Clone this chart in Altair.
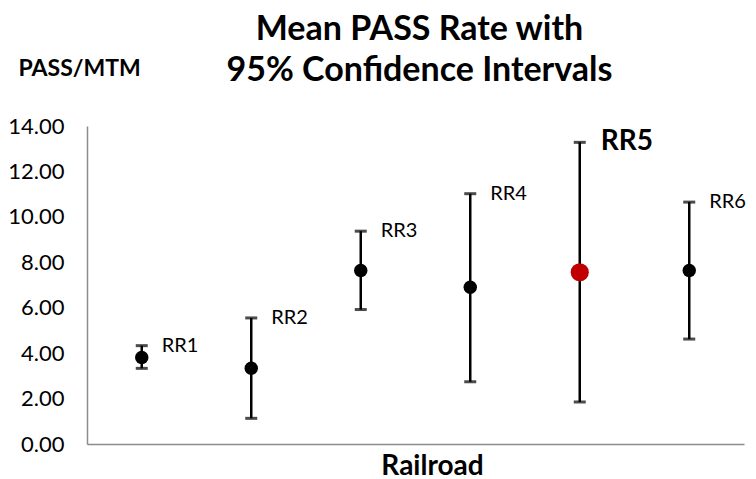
import altair as alt
import pandas as pd

railroads = ["RR1", "RR2", "RR3", "RR4", "RR5", "RR6"]
means = [3.81, 3.34, 7.64, 6.90, 7.56, 7.64]
lows = [3.33, 1.13, 5.92, 2.74, 1.85, 4.62]
highs = [4.33, 5.55, 9.37, 11.02, 13.28, 10.65]
highlight = "RR5"
y_ticks = [0, 2, 4, 6, 8, 10, 12, 14]

df = pd.DataFrame({"railroad": railroads, "mean": means, "low": lows, "high": highs})

FONT = "Lato"
x = alt.X("railroad:N", sort=railroads, scale=alt.Scale(paddingInner=0, paddingOuter=0),
          axis=alt.Axis(title="Railroad", labels=False, ticks=False, domainColor="#8c8c8c",
                        domainWidth=1.5, titleFont=FONT, titleFontSize=28, titleFontWeight="bold",
                        titleColor="black", titleX=345, titleAlign="center", titleY=22,
                        titleBaseline="middle"))
y = alt.Y("mean:Q", scale=alt.Scale(domain=[0, 14], nice=False),
          axis=alt.Axis(values=y_ticks, format=".2f", grid=False, ticks=False,
                        domainColor="#8c8c8c", domainWidth=1.5, labelFont=FONT,
                        labelFontSize=22, labelColor="black", labelPadding=23,
                        title="PASS/MTM", titleAngle=0, titleX=-69, titleY=-58,
                        titleAlign="left", titleBaseline="middle", titleFont=FONT,
                        titleFontSize=23, titleFontWeight="bold", titleColor="black"))

base = alt.Chart(df)
is_hl = alt.datum.railroad == highlight

rules = base.mark_rule(color="black", strokeWidth=2.5).encode(
    x=x, y=alt.Y("low:Q"), y2="high:Q")
caps_lo = base.mark_tick(color="black", orient="horizontal", size=12, thickness=3).encode(
    x=x, y=alt.Y("low:Q"))
caps_hi = base.mark_tick(color="black", orient="horizontal", size=12, thickness=3).encode(
    x=x, y=alt.Y("high:Q"))
pts = base.transform_filter(~is_hl).mark_circle(color="black", opacity=1, size=180).encode(x=x, y=y)
pt_hl = base.transform_filter(is_hl).mark_circle(color="#C00000", opacity=1, size=330).encode(x=x, y=y)
labels = base.transform_filter(~is_hl).mark_text(
    align="left", baseline="middle", dx=20, font=FONT, fontSize=20, color="black").encode(
    x=x, y=alt.Y("high:Q"), text="railroad:N")
label_hl = base.transform_filter(is_hl).mark_text(
    align="left", baseline="middle", dx=21, font=FONT, fontSize=28, fontWeight="bold",
    color="black").encode(x=x, y=alt.Y("high:Q"), text="railroad:N")

chart = alt.layer(rules, caps_lo, caps_hi, pts, pt_hl, labels, label_hl).properties(
    width=657, height=318,
    autosize=alt.AutoSizeParams(type="none"),
    padding={"left": 79, "top": 118, "right": 4, "bottom": 35},
    title=alt.TitleParams(["Mean PASS Rate with", "95% Confidence Intervals"],
                          font=FONT, fontSize=34, fontWeight="bold", color="black",
                          anchor="middle", lineHeight=41, offset=-31, dx=4),
).configure_view(stroke=None)

chart.save("out.html", embed_options={"renderer": "svg", "actions": False})
